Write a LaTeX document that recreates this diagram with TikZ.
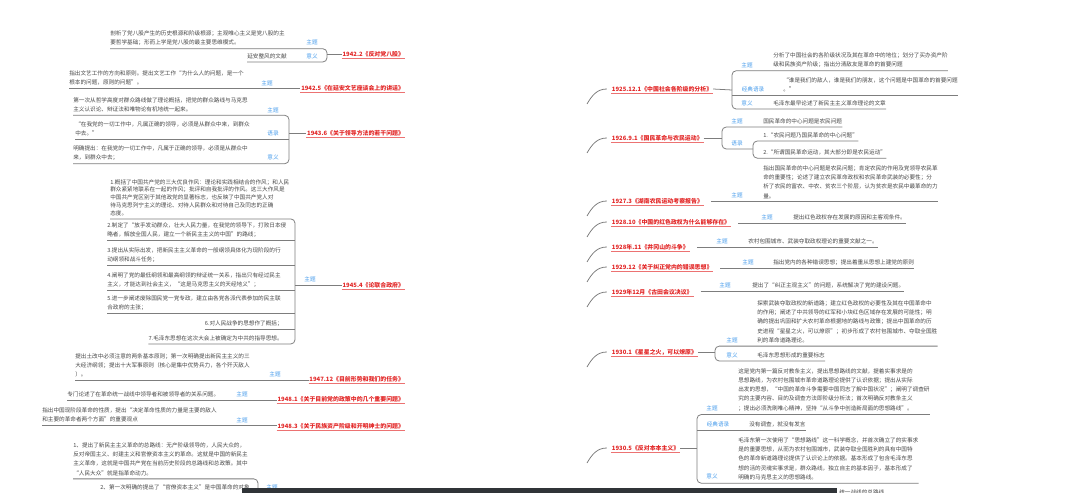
\documentclass[tikz,border=0pt]{standalone}
\usepackage{fontspec}
\setmainfont{Noto Sans CJK SC}
\usetikzlibrary{calc}
\definecolor{TopicRed}{RGB}{226,38,38}
\definecolor{TagBlue}{RGB}{70,155,235}
\definecolor{NoteGray}{RGB}{70,70,70}
\definecolor{LineGray}{RGB}{125,125,125}
\definecolor{BarDark}{RGB}{48,52,56}
\newcommand\notefont{\fontsize{4}{6.6}\selectfont}
\newcommand\topicfont{\fontsize{4.2}{5}\selectfont\bfseries}
\tikzset{
  topicL/.style={font=\topicfont,text=TopicRed,inner xsep=0.5pt,inner ysep=1pt,anchor=east},
  topicR/.style={font=\topicfont,text=TopicRed,inner xsep=0.5pt,inner ysep=1pt,anchor=west},
  tag/.style={font=\notefont,text=TagBlue,inner sep=0pt},
  note/.style={font=\notefont,text=NoteGray,inner xsep=0pt,inner ysep=2.2pt,
    align=left,anchor=north west},
  branch/.style={draw=LineGray,line width=0.55pt},
  redline/.style={draw=TopicRed!65,line width=0.45pt},
}

\begin{document}
\begin{tikzpicture}[x=0.025cm,y=-0.025cm]
\useasboundingbox (0,0) rectangle (1067,493);
\clip (0,0) rectangle (1067,493);

% ---- left side ----
% 1942.2
\node[topicL] (h422) at (405,54) {1942.2《反对党八股》};
\node[note] (n422a) at (110,27) {剖析了党八股产生的历史根源和阶级根源；主观唯心主义是党八股的主\\要哲学基础；形而上学是党八股的最主要思维模式。};
\node[tag] (t422a) at (312,42) {主题};
\node[note,anchor=north east] (n422b) at (287,50) {延安整风的文献};
\node[tag] (t422b) at (312,56) {意义};
\coordinate (b422) at (327,54);
\draw[branch,rounded corners=3pt] (n422a.south west) -- (n422a.south west -| b422) -- (n422b.south east -| b422) -- (n422b.south west);
\draw[branch] (b422) -- (h422.west);
\draw[redline] (h422.south west) -- (h422.south east);

% 1942.5
\node[topicL] (h425) at (405,88) {1942.5《在延安文艺座谈会上的讲话》};
\node[note] (n425) at (69,67) {指出文艺工作的方向和原则。提出文艺工作“为什么人的问题，是一个\\根本的问题，原则的问题”。};
\node[tag] (t425) at (267,83) {主题};
\draw[branch] (n425.south west) -- (n425.south west -| h425.west);
\draw[redline] (h425.south west) -- (h425.south east);

% 1943.6
\node[topicL] (h436) at (405,133) {1943.6《关于领导方法的若干问题》};
\node[note] (n436a) at (73,94) {第一次从哲学高度对群众路线做了理论概括，把党的群众路线与马克思\\主义认识论、辩证法和唯物论有机地统一起来。};
\node[tag] (t436a) at (273,110) {主题};
\node[note] (n436b) at (75,118) {“在我党的一切工作中，凡属正确的领导，必须是从群众中来，到群众\\中去。”};
\node[tag] (t436b) at (273,133) {语录};
\node[note] (n436c) at (73,142) {明确提出：在我党的一切工作中，凡属于正确的领导，必须是从群众中\\来，到群众中去；};
\node[tag] (t436c) at (273,157) {意义};
\coordinate (b436) at (289,133);
\draw[branch,rounded corners=3pt] (n436a.south west) -- (n436a.south west -| b436) -- (n436c.south west -| b436) -- (n436c.south west);
\draw[branch] (n436b.south west) -- (n436b.south west -| b436);
\draw[branch] (b436) -- (h436.west);
\draw[redline] (h436.south west) -- (h436.south east);

% 1945.4
\node[topicL] (h454) at (405,285) {1945.4《论联合政府》};
\node[tag] (t454) at (310,279) {主题};
\node[note,font=\fontsize{4}{5.5}\selectfont] (c1) at (110,176) {1.概括了中国共产党的三大优良作风：理论和实践相结合的作风；和人民\\群众紧紧地联系在一起的作风；批评和自我批评的作风。这三大作风是\\中国共产党区别于其他政党的显著标志，也反映了中国共产党人对\\待马克思列宁主义的理论、对待人民群众和对待自己及同志的正确\\态度。};
\node[note] (c2) at (107,219) {2.制定了“放手发动群众，壮大人民力量，在我党的领导下，打败日本侵\\略者，解放全国人民，建立一个新民主主义的中国”的路线；};
\node[note] (c3) at (107,244) {3.提出从实际出发，把新民主主义革命的一般纲领具体化为现阶段的行\\动纲领和战斗任务；};
\node[note] (c4) at (107,269) {4.阐明了党的最低纲领和最高纲领的辩证统一关系，指出只有经过民主\\主义，才能达到社会主义，“这是马克思主义的天经地义”；};
\node[note] (c5) at (107,292) {5.进一步阐述废除国民党一党专政，建立由各党各派代表参加的民主联\\合政府的主张；};
\node[note,anchor=north east] (c6) at (283,317) {6.对人民战争的思想作了概括；};
\node[note,anchor=north east] (c7) at (283,332) {7.毛泽东思想在这次大会上被确定为中共的指导思想。};
\coordinate (b454) at (295,285);
\draw[branch,rounded corners=3pt] (c1.south west) -- (c1.south west -| b454) -- (c7.south west -| b454) -- (c7.south west);
\foreach \c in {c2,c3,c4,c5,c6}
  \draw[branch] (\c.south west) -- (\c.south west -| b454);
\draw[branch] (b454) -- (h454.west);
\draw[redline] (h454.south west) -- (h454.south east);

% 1947.12
\node[topicL] (h4712) at (405,379) {1947.12《目前形势和我们的任务》};
\node[note] (n4712) at (75,350) {提出土改中必须注意的两条基本原则；第一次明确提出新民主主义的三\\大经济纲领；提出十大军事原则（核心是集中优势兵力，各个歼灭敌人\\）。};
\node[tag] (t4712) at (275,374) {主题};
\draw[branch] (n4712.south west) -- (n4712.south west -| h4712.west);
\draw[redline] (h4712.south west) -- (h4712.south east);

% 1948.1
\node[topicL] (h481) at (405,399) {1948.1《关于目前党的政策中的几个重要问题》};
\node[note] (n481) at (67,388) {专门论述了在革命统一战线中领导者和被领导者的关系问题。};
\node[tag] (t481) at (242,394) {主题};
\draw[branch] (n481.south west) -- (n481.south west -| h481.west);
\draw[redline] (h481.south west) -- (h481.south east);

% 1948.3
\node[topicL] (h483) at (405,426) {1948.3《关于民族资产阶级和开明绅士的问题》};
\node[note] (n483) at (42,404) {指出中国现阶段革命的性质，提出“决定革命性质的力量是主要的敌人\\和主要的革命者两个方面”的重要观点};
\node[tag] (t483) at (242,420) {主题};
\draw[branch] (n483.south west) -- (n483.south west -| h483.west);
\draw[redline] (h483.south west) -- (h483.south east);

% 1948.4 (cut at the bottom)
\node[note] (n484a) at (73,439) {1、提出了新民主主义革命的总路线：无产阶级领导的，人民大众的，\\反对帝国主义、封建主义和官僚资本主义的革命。这就是中国的新民主\\主义革命，这就是中国共产党在当前历史阶段的总路线和总政策。其中\\“人民大众”就是指革命动力。};
\node[note,anchor=north east] (n484b) at (250,481) {2、第一次明确的提出了“官僚资本主义”是中国革命的对象};
\node[tag] (t484) at (272,487) {主题};
\coordinate (b484) at (258,500);
\draw[branch,rounded corners=3pt] (n484a.south west) -- (n484a.south west -| b484) -- (b484);
\draw[branch] (n484b.south west) -- (n484b.south west -| b484);

% ---- right side ----
% 1925.12.1
\node[topicR] (h2512) at (611,89) {1925.12.1《中国社会各阶级的分析》};
\node[note] (n2512a) at (773,49) {分析了中国社会的各阶级状况及其在革命中的地位；划分了买办资产阶\\级和民族资产阶级；指出分清敌友是革命的首要问题};
\node[tag] (t2512a) at (747,65) {主题};
\node[note] (n2512b) at (783,74) {“谁是我们的敌人，谁是我们的朋友，这个问题是中国革命的首要问题\\。”};
\node[tag] (t2512b) at (753,89) {经典语录};
\node[note] (n2512c) at (773,97) {毛泽东最早论述了新民主主义革命理论的文章};
\node[tag] (t2512c) at (747,103) {意义};
\coordinate (b2512) at (732,90);
\draw[branch,rounded corners=3pt] (n2512a.south east) -- (n2512a.south east -| b2512) -- (n2512c.south east -| b2512) -- (n2512c.south east);
\draw[branch] (n2512b.south east) -- (n2512b.south east -| b2512);
\draw[branch] (h2512.east) -- (b2512);
\draw[redline] (h2512.south west) -- (h2512.south east);

% 1926.9.1
\node[topicR] (h2691) at (611,138) {1926.9.1《国民革命与农民运动》};
\node[note] (n2691a) at (763,115) {国民革命的中心问题是农民问题};
\node[tag] (t2691a) at (737,121) {主题};
\node[tag] (t2691b) at (737,143) {语录};
\node[note] (n2691b) at (763,129) {1.“农民问题乃国民革命的中心问题”};
\node[note] (n2691c) at (763,146) {2.“所谓国民革命运动，其大部分即是农民运动”};
\coordinate (b2691) at (722,138);
\coordinate (s2691) at (753,149);
\draw[branch,rounded corners=3pt] (n2691a.south east) -- (n2691a.south east -| b2691) -- (b2691 |- s2691) -- (s2691);
\draw[branch,rounded corners=3pt] (n2691b.south east) -- (n2691b.south east -| s2691) -- (n2691c.south east -| s2691) -- (n2691c.south east);
\draw[branch] (h2691.east) -- (b2691);
\draw[redline] (h2691.south west) -- (h2691.south east);

% 1927.3
\node[topicR] (h273) at (611,201) {1927.3《湖南农民运动考察报告》};
\node[note] (n273) at (763,162) {指出国民革命的中心问题是农民问题；肯定农民的作用及党领导农民革\\命的重要性；论述了建立农民革命政权和农民革命武装的必要性；分\\析了农民的富农、中农、贫农三个阶层，认为贫农是农民中最革命的力\\量。};
\node[tag] (t273) at (737,195) {主题};
\draw[branch] ([xshift=5pt]h273.east |- n273.south) -- (n273.south east);
\draw[redline] (h273.south west) -- (h273.south east);

% 1928.10
\node[topicR] (h2810) at (611,222) {1928.10《中国的红色政权为什么能够存在》};
\node[note] (n2810) at (793,211) {提出红色政权存在发展的原因和主客观条件。};
\node[tag] (t2810) at (767,217) {主题};
\draw[branch] ([xshift=5pt]h2810.east |- n2810.south) -- (n2810.south east);
\draw[redline] (h2810.south west) -- (h2810.south east);

% 1928.11
\node[topicR] (h2811) at (611,247) {1928年.11《井冈山的斗争》};
\node[note] (n2811) at (748,235) {农村包围城市、武装夺取政权理论的重要文献之一。};
\node[tag] (t2811) at (722,241) {主题};
\draw[branch] ([xshift=5pt]h2811.east |- n2811.south) -- (n2811.south east);
\draw[redline] (h2811.south west) -- (h2811.south east);

% 1929.12
\node[topicR] (h2912) at (611,267) {1929.12《关于纠正党内的错误思想》};
\node[note] (n2912) at (773,256) {指出党内的各种错误思想；提出着重从思想上建党的原则};
\node[tag] (t2912) at (748,262) {主题};
\draw[branch] ([xshift=5pt]h2912.east |- n2912.south) -- (n2912.south east);
\draw[redline] (h2912.south west) -- (h2912.south east);

% 1929年12月
\node[topicR] (hgt) at (611,292) {1929年12月《古田会议决议》};
\node[note] (ngt) at (752,279) {提出了“纠正主观主义”的问题，系统解决了党的建设问题。};
\node[tag] (tgt) at (725,285) {主题};
\draw[branch] ([xshift=5pt]hgt.east |- ngt.south) -- (ngt.south east);
\draw[redline] (hgt.south west) -- (hgt.south east);

% 1930.1
\node[topicR] (h301) at (611,352) {1930.1《星星之火，可以燎原》};
\node[note] (n301a) at (757,297) {探索武装夺取政权的新道路；建立红色政权的必要性及其在中国革命中\\的作用；阐述了中共领导的红军和小块红色区域存在发展的可能性；明\\确的提出巩固和扩大农村革命根据地的路线与政策；提出中国革命的历\\史进程“星星之火，可以燎原”；初步形成了农村包围城市、夺取全国胜\\利的革命道路理论。};
\node[tag] (t301a) at (732,340) {主题};
\node[note] (n301b) at (757,349) {毛泽东思想形成的重要标志};
\node[tag] (t301b) at (732,355) {意义};
\coordinate (b301) at (715,352);
\draw[branch,rounded corners=3pt] (n301a.south east) -- (n301a.south east -| b301) -- (n301b.south east -| b301) -- (n301b.south east);
\draw[branch] (h301.east) -- (b301);
\draw[redline] (h301.south west) -- (h301.south east);

% 1930.5
\node[topicR] (h305) at (611,448) {1930.5《反对本本主义》};
\node[note] (n305a) at (738,365) {这是党内第一篇反对教条主义，提出思想路线的文献，提着实事求是的\\思想路线，为农村包围城市革命道路理论提供了认识依据；提出从实际\\出发的思想，“中国的革命斗争需要中国同志了解中国状况”；阐明了调查研\\究的主要内容、目的及调查方法即阶级分析法；首次明确反对教条主义\\；提出必须洗刷唯心精神，坚持“从斗争中创造新局面的思想路线”。};
\node[tag] (t305a) at (712,408) {主题};
\node[note] (n305b) at (749,418) {没有调查，就没有发言};
\node[tag] (t305b) at (718,424) {经典语录};
\node[note] (n305c) at (738,434) {毛泽东第一次使用了“思想路线”这一科学概念，并首次确立了的实事求\\是的重要思想，从而为农村包围城市，武装夺取全国胜利的具有中国特\\色的革命新道路理论提供了认识论上的依据。基本形成了包含毛泽东思\\想的活的灵魂实事求是，群众路线，独立自主的基本因子，基本形成了\\明确的马克思主义的思想路线。};
\node[tag] (t305c) at (712,476) {意义};
\coordinate (b305) at (697,448);
\draw[branch,rounded corners=3pt] (n305a.south east) -- (n305a.south east -| b305) -- (n305c.south east -| b305) -- (n305c.south east);
\draw[branch] (n305b.south east) -- (n305b.south east -| b305);
\draw[branch] (h305.east) -- (b305);
\draw[redline] (h305.south west) -- (h305.south east);

% short curves coming in from the centre
\foreach \h in {h2512,h2691,h273,h2810,h2811,h2912,hgt,h301,h305}{
  \coordinate (\h-in) at ($(\h.west)+(-24,15)$);
  \draw[branch] (\h-in) to[out=60,in=180] ([xshift=-3pt]\h.west);
}

% bottom bar and cut text
\fill[BarDark] (242,488) rectangle (837,500);
\node[note] (nbot) at (839,486) {统一战线的总路线};
\end{tikzpicture}
\end{document}
